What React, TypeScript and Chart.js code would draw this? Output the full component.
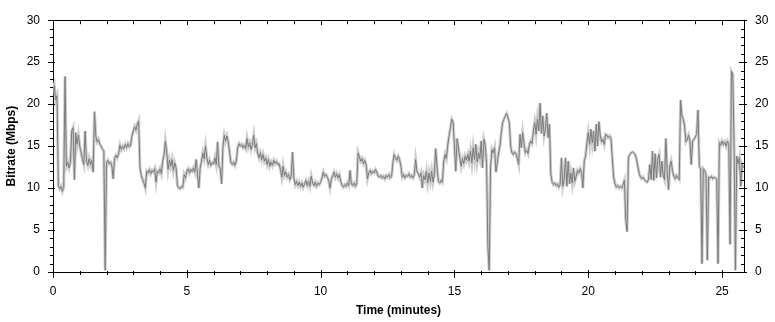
import React, { useEffect, useRef } from "react";
import { Chart, registerables } from "chart.js";

Chart.register(...registerables);

// Sampling step of the bitrate trace, in minutes
const stepMinutes = 0.05;
const durationMinutes = 25.82;

// Bitrate (Mbps), one row per minute, 20 samples per row
const bitrate: number[] = [
  // 0
  21.5, 22.2, 20.5, 21.0, 10.3, 9.9, 10.2, 9.6, 10.1, 23.3, 12.6, 13.1, 12.4, 13.0, 16.8, 17.2, 11.0, 16.6, 15.2, 16.3,
  // 1
  15.0, 14.2, 13.4, 12.8, 16.8, 13.2, 12.7, 13.5, 12.8, 13.3, 11.9, 19.1, 16.2, 15.5, 15.8, 15.2, 15.0, 14.6, 14.4, 0.2,
  // 2
  13.0, 13.3, 12.9, 13.1, 12.6, 11.1, 13.5, 13.9, 13.6, 14.1, 15.1, 14.6, 15.0, 14.7, 15.2, 14.8, 15.3, 14.9, 15.1, 16.2,
  // 3
  16.8, 17.3, 16.9, 17.6, 18.0, 12.4, 11.5, 11.0, 10.6, 10.0, 12.0, 11.8, 12.2, 11.7, 12.1, 11.9, 12.3, 10.7, 12.0, 11.8,
  // 4
  12.3, 11.7, 13.2, 14.0, 15.6, 14.3, 12.2, 13.3, 12.6, 13.4, 12.1, 13.0, 12.4, 10.3, 10.0, 9.9, 10.2, 10.1, 11.6, 11.2,
  // 5
  12.0, 12.3, 11.8, 12.2, 12.0, 12.4, 11.9, 13.4, 11.6, 10.0, 12.4, 13.2, 14.2, 13.5, 15.0, 13.6, 12.8, 13.3, 12.7, 13.0,
  // 6
  12.9, 13.6, 12.8, 15.5, 12.6, 12.3, 10.5, 14.9, 16.3, 15.6, 16.2, 15.5, 14.2, 13.0, 12.8, 13.1, 12.7, 13.2, 14.8, 15.3,
  // 7
  15.0, 15.2, 14.8, 15.1, 14.7, 15.9, 14.9, 15.4, 14.6, 15.2, 16.3, 14.8, 15.3, 14.1, 13.6, 14.2, 13.4, 14.0, 13.2, 13.6,
  // 8
  12.8, 13.4, 12.6, 13.1, 12.7, 13.3, 12.9, 13.2, 12.8, 12.9, 12.2, 11.3, 12.6, 11.5, 11.9, 11.3, 11.6, 11.0, 11.4, 14.3,
  // 9
  11.2, 10.4, 10.8, 10.3, 10.7, 10.2, 10.6, 10.1, 10.5, 10.9, 10.3, 10.8, 10.2, 11.4, 10.6, 10.3, 10.7, 10.2, 10.6, 10.4,
  // 10
  10.7, 11.2, 11.9, 11.4, 11.6, 11.3, 10.9, 10.0, 11.0, 11.5, 11.9, 11.3, 11.7, 11.2, 11.6, 10.8, 10.3, 10.1, 10.4, 10.2,
  // 11
  10.6, 10.3, 12.1, 10.5, 10.3, 10.6, 10.2, 10.5, 14.2, 13.7, 13.2, 13.5, 12.9, 13.3, 12.8, 11.1, 11.8, 12.1, 11.7, 12.0,
  // 12
  11.8, 12.2, 11.9, 11.4, 11.3, 11.5, 11.2, 11.4, 11.1, 11.5, 11.3, 11.6, 11.2, 11.4, 13.0, 14.0, 13.6, 13.3, 13.8, 13.4,
  // 13
  12.6, 11.3, 11.6, 11.2, 11.5, 11.4, 11.7, 11.3, 11.5, 11.2, 11.6, 13.4, 12.0, 11.7, 11.3, 11.8, 10.0, 11.5, 11.0, 12.0,
  // 14
  10.6, 11.8, 10.8, 12.0, 10.7, 11.6, 14.7, 12.5, 10.8, 10.6, 10.9, 10.7, 13.2, 14.0, 13.5, 15.1, 16.2, 17.2, 18.2, 17.9,
  // 15
  15.0, 12.0, 15.9, 14.8, 13.6, 12.6, 13.5, 12.9, 13.8, 13.3, 14.0, 13.2, 14.4, 13.0, 14.8, 13.4, 15.2, 13.1, 14.2, 13.5,
  // 16
  15.6, 12.4, 15.8, 15.2, 13.0, 3.0, 0.2, 12.5, 14.6, 14.2, 14.8, 11.9, 13.0, 14.2, 15.0, 16.5, 17.8, 18.2, 18.6, 18.9,
  // 17
  18.4, 17.8, 15.0, 14.2, 14.0, 14.3, 14.1, 13.5, 12.8, 16.4, 14.8, 16.6, 15.3, 14.2, 14.5, 14.1, 15.2, 15.6, 15.3, 16.8,
  // 18
  17.8, 16.4, 18.2, 16.8, 20.1, 16.5, 18.6, 16.2, 17.0, 18.9, 16.0, 17.6, 11.7, 10.7, 10.4, 10.6, 10.3, 10.5, 10.1, 10.4,
  // 19
  13.6, 10.2, 11.0, 13.6, 10.2, 13.2, 10.5, 11.8, 10.6, 12.4, 10.8, 11.4, 12.1, 11.8, 12.3, 11.9, 10.0, 13.2, 13.8, 15.4,
  // 20
  16.6, 15.2, 17.0, 15.4, 16.8, 14.4, 17.6, 15.0, 17.9, 16.2, 15.5, 15.8, 15.2, 16.4, 16.3, 16.0, 16.2, 15.9, 13.5, 11.3,
  // 21
  10.5, 10.1, 10.3, 10.0, 10.2, 10.0, 10.4, 10.9, 6.3, 4.8, 13.6, 14.0, 14.2, 14.3, 14.2, 14.0, 13.5, 12.6, 11.8, 11.3,
  // 22
  11.1, 11.3, 11.0, 10.8, 10.7, 11.0, 12.8, 11.0, 14.4, 10.9, 14.1, 11.2, 13.5, 14.0, 11.3, 13.2, 11.5, 11.0, 15.9, 12.0,
  // 23
  9.8, 12.6, 13.2, 12.0, 11.4, 11.1, 11.5, 11.2, 11.0, 20.5, 18.6, 18.2, 17.4, 15.5, 15.8, 16.3, 15.6, 12.8, 15.6, 15.8,
  // 24
  16.1, 16.4, 19.3, 12.6, 12.3, 1.0, 12.3, 12.1, 11.6, 1.4, 11.3, 11.2, 11.4, 11.1, 11.3, 11.2, 11.1, 1.0, 15.4, 15.1,
  // 25
  15.6, 15.2, 15.5, 15.0, 15.6, 15.3, 3.3, 23.9, 23.6, 15.0, 0.2, 13.8, 12.9, 13.6, 10.2, 12.8, 12.4,
];

const xTickValues = [0, 5, 10, 15, 20, 25];
const yTickValues = [0, 5, 10, 15, 20, 25, 30];

const W = 775;
const H = 322;

const tickPlugin = {
  id: "axisTicks",
  afterDraw(chart: any) {
    const ctx = chart.ctx;
    const { left, right, top, bottom } = chart.chartArea;
    const xs = chart.scales.x;
    const ys = chart.scales.y;
    ctx.save();
    ctx.strokeStyle = "#000";
    ctx.lineWidth = 1;
    ctx.beginPath();
    for (let v = 0; v <= 25; v++) {
      const px = Math.round(xs.getPixelForValue(v)) + 0.5;
      const major = v % 5 === 0;
      // bottom
      ctx.moveTo(px, bottom + (major ? -2 : -1));
      ctx.lineTo(px, bottom + (major ? 6 : 3));
      // top
      ctx.moveTo(px, top);
      ctx.lineTo(px, top + (major ? 5 : 4));
    }
    for (let v = 0; v <= 30; v++) {
      const py = Math.round(ys.getPixelForValue(v)) + 0.5;
      const major = v % 5 === 0;
      ctx.moveTo(left + (major ? 2 : 0), py);
      ctx.lineTo(left - (major ? 5 : 3), py);
      ctx.moveTo(right - (major ? 5 : 3), py);
      ctx.lineTo(right + (major ? 3 : 0), py);
    }
    ctx.stroke();
    ctx.restore();
  },
};

export default function App() {
  const ref = useRef<HTMLCanvasElement | null>(null);

  useEffect(() => {
    if (!ref.current) return;
    const points = bitrate.map((v, i) => ({ x: +(i * stepMinutes).toFixed(2), y: v }));
    const font = { family: "'Liberation Sans', Arial, sans-serif", size: 12 };
    const boldFont = { family: "'Liberation Sans', Arial, sans-serif", size: 12, weight: "bold" as const };
    const chart = new Chart(ref.current, {
      type: "line",
      data: {
        datasets: [
          {
            label: "Bitrate",
            data: points,
            borderColor: "#7c7c7c",
            borderWidth: 1,
            pointRadius: 0,
            tension: 0,
          },
          {
            label: "Bitrate range",
            data: points,
            borderColor: "#cdcdcd",
            borderWidth: 3,
            pointRadius: 0,
            tension: 0,
          },
        ],
      },
      options: {
        animation: false,
        responsive: false,
        devicePixelRatio: 1,
        layout: { padding: 0 },
        plugins: { legend: { display: false }, tooltip: { enabled: false } },
        scales: {
          x: {
            type: "linear",
            position: "bottom",
            min: 0,
            max: durationMinutes,
            afterBuildTicks: (s: any) => {
              s.ticks = xTickValues.map((v) => ({ value: v }));
            },
            afterFit: (s: any) => {
              s.height = H - 272;
            },
            ticks: { color: "#000", font, padding: 12, maxRotation: 0, autoSkip: false },
            grid: { display: true, drawOnChartArea: false, drawTicks: false },
            border: { display: true, color: "#000", width: 1 },
            title: { display: true, text: "Time (minutes)", color: "#000", font: boldFont, padding: { top: 4, bottom: 4 } },
          },
          x2: {
            type: "linear",
            position: "top",
            min: 0,
            max: durationMinutes,
            afterFit: (s: any) => {
              s.height = 10;
            },
            ticks: { display: false },
            grid: { display: true, drawOnChartArea: false, drawTicks: false },
            border: { display: true, color: "#000", width: 1 },
          },
          y: {
            type: "linear",
            position: "left",
            min: 0,
            max: 30,
            afterBuildTicks: (s: any) => {
              s.ticks = yTickValues.map((v) => ({ value: v }));
            },
            afterFit: (s: any) => {
              s.width = 53;
            },
            ticks: { color: "#000", font, padding: 13 },
            grid: { display: true, drawOnChartArea: false, drawTicks: false },
            border: { display: true, color: "#000", width: 1 },
            title: { display: true, text: "Bitrate (Mbps)", color: "#000", font: boldFont, padding: { top: 4, bottom: 4 } },
          },
          y2: {
            type: "linear",
            position: "right",
            min: 0,
            max: 30,
            afterBuildTicks: (s: any) => {
              s.ticks = yTickValues.map((v) => ({ value: v }));
            },
            afterFit: (s: any) => {
              s.width = W - 744;
            },
            ticks: { color: "#000", font, padding: 11 },
            grid: { display: true, drawOnChartArea: false, drawTicks: false },
            border: { display: true, color: "#000", width: 1 },
          },
        },
      },
      plugins: [tickPlugin],
    });
    return () => chart.destroy();
  }, []);

  return (
    <div style={{ position: "fixed", left: 0, top: 0, width: W, height: H, background: "#fff" }}>
      <canvas ref={ref} width={W} height={H} style={{ display: "block", width: W, height: H }} />
    </div>
  );
}
